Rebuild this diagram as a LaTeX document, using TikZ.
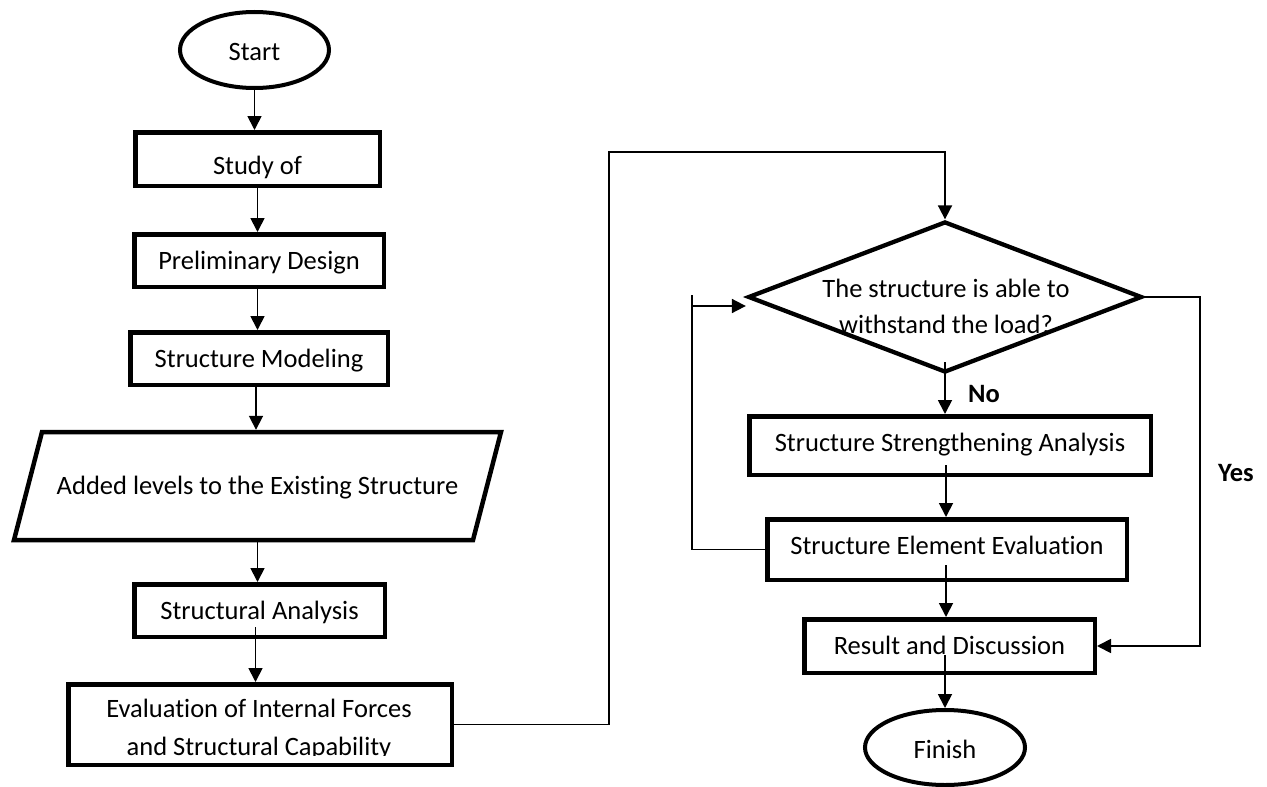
\documentclass[tikz,border=0pt]{standalone}
\usepackage{fontspec}
\setmainfont{Carlito}[Ligatures=CommonOff]
\usetikzlibrary{shapes.geometric,arrows.meta,calc}
\begin{document}
\begin{tikzpicture}[x=1pt,y=-1pt,
  every node/.style={font=\fontsize{26.5}{37.5}\selectfont,inner sep=0pt},
  txt/.style={text height=17pt,text depth=0pt},
  stepbox/.style={draw,rectangle,line width=4.5pt,txt},
  term/.style={draw,ellipse,line width=4pt,txt},
  decide/.style={draw,diamond,line width=4.3pt},
  conn/.style={line width=1.8pt},
  arr/.style={conn,-{Triangle[length=14pt,width=14pt]}},
  lbl/.style={font=\fontsize{26.5}{37.5}\selectfont\bfseries}]
\useasboundingbox (0,0) rectangle (1267,787);

% left column
\node[term,minimum width=149pt,minimum height=76pt,text height=21pt] (start) at (254.5,50) {Start};
\node[stepbox,minimum width=244.5pt,minimum height=53.5pt,text height=31pt] (study) at (257.5,159) {Study of};
\node[stepbox,minimum width=249.5pt,minimum height=52.5pt] (prelim) at (259,260.5) {Preliminary Design};
\node[stepbox,minimum width=257.5pt,minimum height=52.5pt] (model) at (259,358.5) {Structure Modeling};
\draw[line width=4.5pt] (42,432) -- (501,432) -- (473,540) -- (14,540) -- cycle;
\node[txt,minimum width=459pt,minimum height=112pt] (added) at (257.5,486) {Added levels to the Existing Structure};
\node[stepbox,minimum width=250.5pt,minimum height=52.5pt] (sa) at (259.5,610.5) {Structural Analysis};
\node[stepbox,minimum width=383.5pt,minimum height=80.5pt] (eval) at (260,724.5) {};
\begin{scope}
  \clip (66,682) rectangle (454,755.5);
  \node[anchor=base] (ev1) at (259,717.5) {Evaluation of Internal Forces};
  \node[anchor=base] (ev2) at (259,755) {and Structural Capability};
\end{scope}

% right column
\node[decide,minimum width=394pt,minimum height=151pt] (dec) at (945,297) {};
\node[anchor=base] (dq1) at (946,297) {The structure is able to};
\node[anchor=base] (dq2) at (946,333.5) {withstand the load?};
\node[stepbox,minimum width=401.5pt,minimum height=58.5pt,text depth=6pt] (strength) at (950,445.5) {Structure Strengthening Analysis};
\node[stepbox,minimum width=359.5pt,minimum height=60.5pt,text depth=7pt] (elem) at (947,549.5) {Structure Element Evaluation};
\node[stepbox,minimum width=290.5pt,minimum height=53.5pt] (result) at (949.5,646) {Result and Discussion};
\node[term,minimum width=160pt,minimum height=75pt,text height=22pt] (finish) at (945,747.5) {Finish};

\node[lbl,anchor=base west] (no) at (968,402) {No};
\node[lbl,anchor=base west] (yes) at (1218,481) {Yes};

% connectors, left column
\draw[arr] (start.south) -- (start.south |- study.north);
\draw[arr] (study.south) -- (study.south |- prelim.north);
\draw[arr] (prelim.south -| study.south) -- (study.south |- model.north);
\draw[arr] ($(model.south)+(-3,0)$) -- ($(model.south |- added.north)+(-3,0)$);
\draw[arr] (added.south) -- (added.south |- sa.north);
\draw[arr] ($(sa.center)+(-4,16.5)$) -- ($(sa.center |- eval.north)+(-4,0)$);

% connector to decision
\coordinate (c1) at (609,152);
\draw[arr] (eval.east) -| (c1) -| (dec.north);

% right column
\draw[arr] ($(dec.center)+(0,65)$) -- (dec.center |- strength.north);
\draw[arr] ($(strength.center)+(-4,19.5)$) -- ($(strength.center |- elem.north)+(-4,0)$);
\draw[arr] ($(elem.center)+(-1,15.5)$) -- ($(elem.center |- result.north)+(-1,0)$);
\draw[arr] ($(result.center)+(-4.5,9)$) -- (finish.north);

% loop back (left)
\coordinate (lt) at (692,295);
\coordinate (la) at (692,306);
\draw[conn] (elem.west) -| (lt);
\draw[arr] (la) -- (la -| dec.west);

% yes branch (right)
\coordinate (ry) at (1200,297);
\draw[arr] (dec.east) -| (ry |- result.east) -- (result.east);
\end{tikzpicture}
\end{document}
